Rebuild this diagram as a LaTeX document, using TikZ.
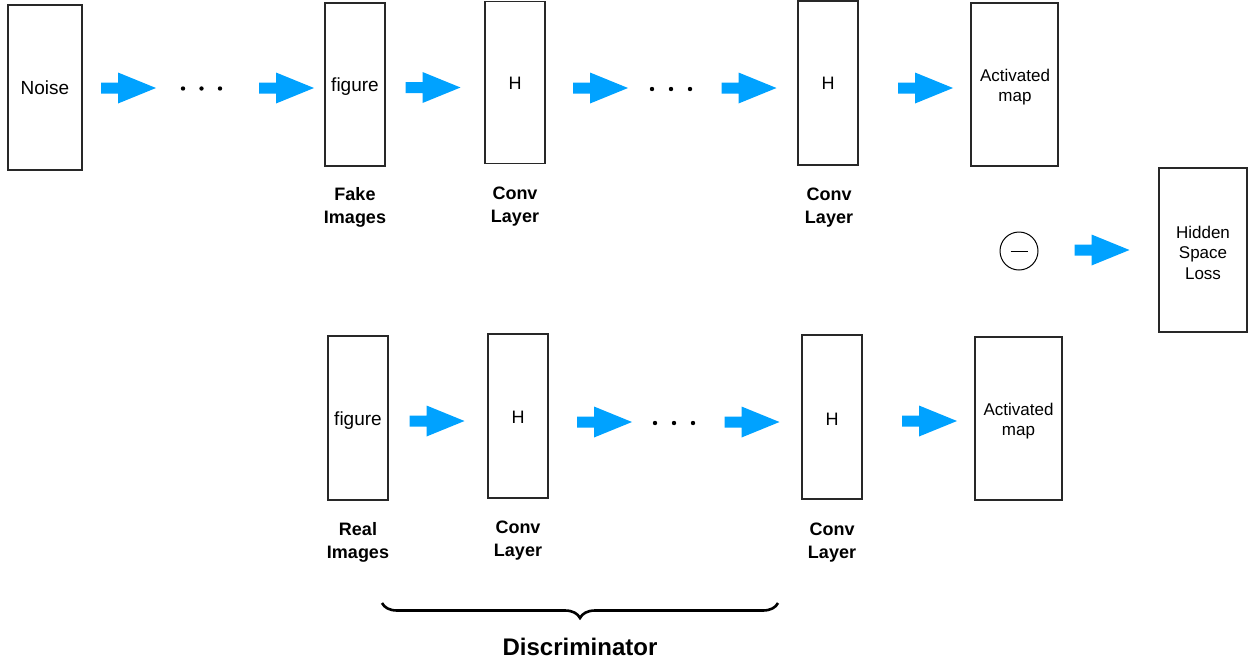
\documentclass[tikz,border=0pt]{standalone}
\usepackage{fontspec}
\setmainfont{Liberation Sans}
\usetikzlibrary{decorations.pathreplacing}
\definecolor{flowblue}{RGB}{0,162,255}
\definecolor{boxline}{RGB}{40,40,40}
\begin{document}
\begin{tikzpicture}[x=1pt,y=-1pt,
  layer/.style={draw=boxline, line width=1.3pt, inner sep=0pt},
  inbox/.style={align=center, inner sep=0pt, font=\fontsize{18}{20}\selectfont},
  bigtext/.style={font=\fontsize{19}{22}\selectfont},
  smalltext/.style={font=\fontsize{17}{20.5}\selectfont},
  tag/.style={align=center, font=\bfseries\fontsize{18}{23}\selectfont},
  ellipsis/.style={fill=black, circle, inner sep=0pt, minimum size=4.4pt},
  pics/flow/.style={code={
    \fill[flowblue] (-27.5,-5.5) -- (-10.5,-5.5) -- (-10.5,-15.5) -- (27.5,0)
      -- (-10.5,15.5) -- (-10.5,5.5) -- (-27.5,5.5) -- cycle;}}
]
\useasboundingbox (0,0) rectangle (1250,662);

% generator and fake branch
\node[layer, minimum width=74, minimum height=165] (noise) at (45,87.5) {};
\node[layer, minimum width=60, minimum height=163] (ffig) at (355,84.5) {};
\node[layer, minimum width=60, minimum height=162] (fh1) at (515,82.5) {};
\node[layer, minimum width=60, minimum height=164] (fh2) at (828,83) {};
\node[layer, minimum width=87, minimum height=163] (fact) at (1014.5,84.5) {};

% real branch
\node[layer, minimum width=60, minimum height=164] (rfig) at (358,418) {};
\node[layer, minimum width=60, minimum height=164] (rh1) at (518,416) {};
\node[layer, minimum width=60, minimum height=164] (rh2) at (832,417) {};
\node[layer, minimum width=87, minimum height=163] (ract) at (1018.5,418.5) {};

% difference and loss
\node[draw, circle, line width=1pt, minimum size=38, inner sep=0pt] (minus) at (1019,251) {};
\draw[line width=0.9pt] ([xshift=-8.5pt]minus.center) -- ([xshift=8.5pt]minus.center);
\node[layer, minimum width=88, minimum height=164] (loss) at (1203,250) {};

% texts inside the boxes
\node[inbox, bigtext] (tnoise) at ([yshift=0pt]noise.center) {Noise};
\node[inbox, bigtext] (tffig) at (355,86.5) {figure};
\node[inbox] (tfh1) at (515,83.5) {H};
\node[inbox] (tfh2) at (828,83.5) {H};
\node[inbox, smalltext] (tfact) at (1015,87) {Activated\\map};
\node[inbox, bigtext] (trfig) at (358,420.5) {figure};
\node[inbox] (trh1) at (518,417.5) {H};
\node[inbox] (trh2) at (832,419) {H};
\node[inbox, smalltext] (tract) at (1018.5,421) {Activated\\map};
\node[inbox, smalltext] (tloss) at (1203,252.5) {Hidden\\Space\\Loss};

% flow arrows
\pic at (128.5,88) {flow};
\pic at (286.5,88) {flow};
\pic at (433,87.5) {flow};
\pic at (600.5,88) {flow};
\pic at (749,88) {flow};
\pic at (925.5,88) {flow};
\pic at (1102,250) {flow};
\pic at (437,421) {flow};
\pic at (604.5,422) {flow};
\pic at (752,422) {flow};
\pic at (929.5,421) {flow};

% skipped layers
\foreach \px in {183,201.5,220} \node[ellipsis] at (\px,88.5) {};
\foreach \px in {652,671,690} \node[ellipsis] at (\px,89) {};
\foreach \px in {655,674,693} \node[ellipsis] at (\px,423) {};

% captions
\node[tag] (lfake) at (355,207.5) {Fake\\Images};
\node[tag] (lconv1) at (515,206.5) {Conv\\Layer};
\node[tag] (lconv2) at (829,207.5) {Conv\\Layer};
\node[tag] (lreal) at (358,542.5) {Real\\Images};
\node[tag] (lconv3) at (518,540.5) {Conv\\Layer};
\node[tag] (lconv4) at (832,542.5) {Conv\\Layer};

% discriminator brace
\coordinate (bl) at (382,603);
\coordinate (br) at (778,603);
\draw[decorate, decoration={brace, mirror, amplitude=15pt}, line width=2.6pt] (bl) -- (br);
\node[font=\bfseries\fontsize{24}{28}\selectfont] (disc) at (580,646.5) {Discriminator};
\end{tikzpicture}
\end{document}
